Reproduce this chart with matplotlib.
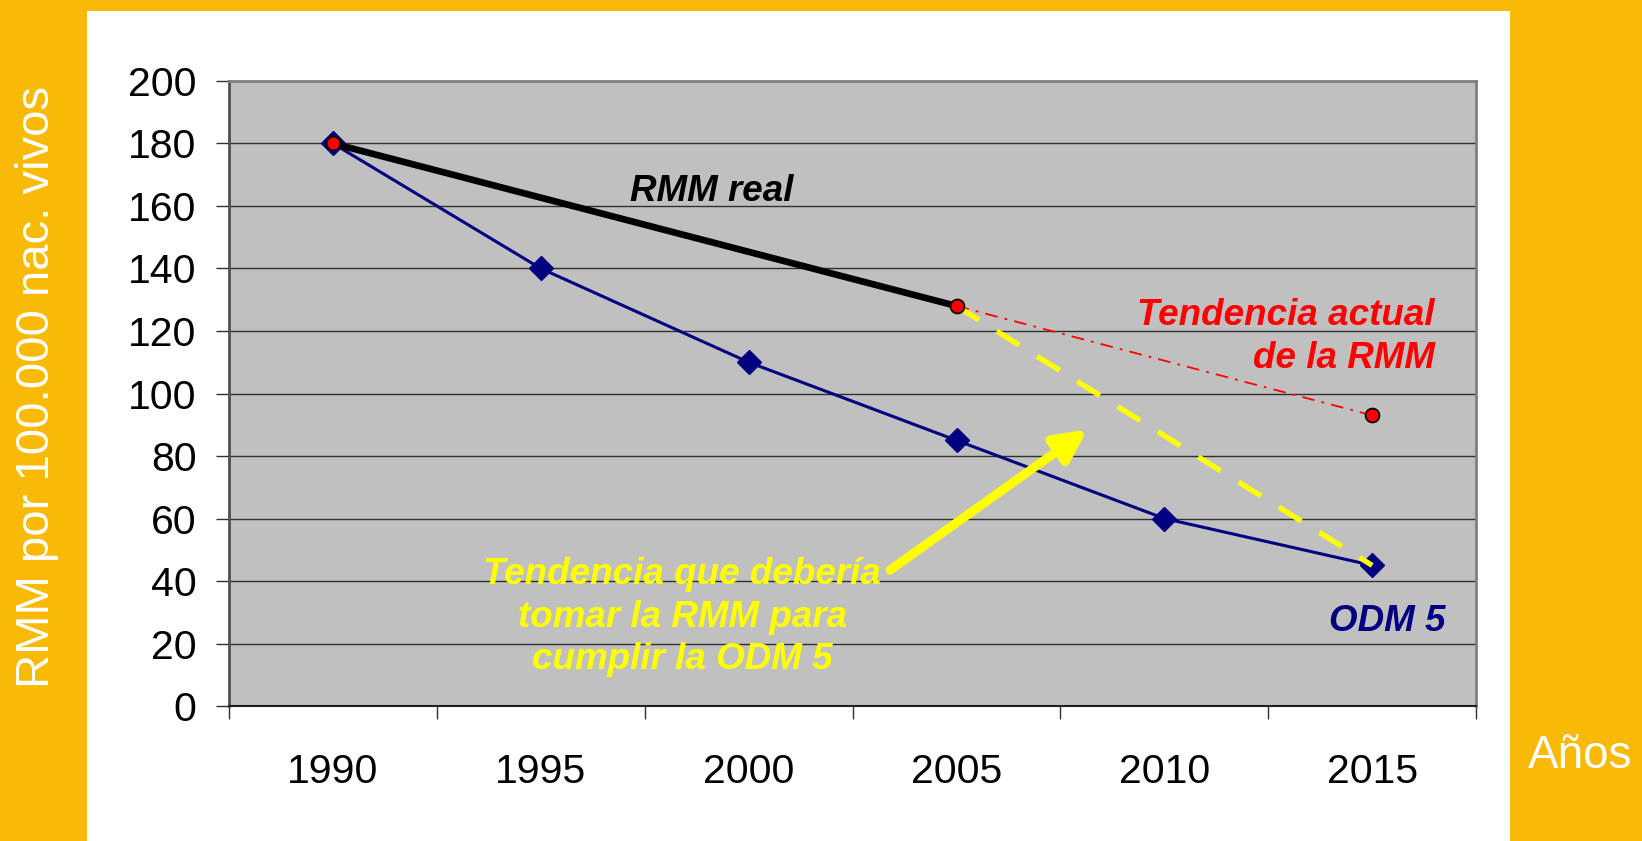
"""
plot.py
-------
RMM por 100.000 nacidos vivos: tendencia real vs. meta ODM 5.
Output: out.png
"""

import matplotlib.pyplot as plt
from matplotlib.patches import Rectangle

# ─────────────────────────────────────────────────────────────────────────────
YEARS      = ["1990", "1995", "2000", "2005", "2010", "2015"]
ODM5       = [180, 140, 110, 85, 60, 45]      # meta ODM 5
RMM_REAL   = [180, 128]                       # 1990, 2005
RMM_REAL_X = [0, 3]
TREND_X    = [3, 5]                           # 2005 -> 2015
TREND_ACT  = [128, 93]                        # tendencia actual
TREND_ODM  = [128, 45]                        # tendencia necesaria
RED_PTS_X  = [0, 3, 5]
RED_PTS_Y  = [180, 128, 93]
Y_TICKS    = list(range(0, 201, 20))

BG_YELLOW = "#F8BA07"
PLOT_GRAY = "#C0C0C0"
NAVY      = "#000080"
RED       = "#FF0000"
YELLOW    = "#FFFF00"

plt.rcParams["font.family"] = ["Liberation Sans", "DejaVu Sans"]

# ─────────────────────────────────────────────────────────────────────────────
fig = plt.figure(figsize=(16.42, 8.41), dpi=100)
fig.patch.set_facecolor(BG_YELLOW)
fig.patches.append(Rectangle((0.053, 0.0), 0.8666, 0.987, transform=fig.transFigure,
                             facecolor="white", edgecolor="none", zorder=-5))

ax = fig.add_axes([0.1395, 0.1605, 0.7595, 0.7432])
ax.set_zorder(2)
ax.set_facecolor(PLOT_GRAY)
ax.set_xlim(-0.5, 5.5)
ax.set_ylim(0, 200)

# grid
ax.set_yticks(Y_TICKS)
ax.yaxis.grid(True, color="#303030", lw=1.0)
ax.set_axisbelow(True)
ax.tick_params(axis="y", direction="out", length=9.5, width=1, color="#303030",
               labelsize=29.5, pad=14)

# categories: labels at centres, tick marks at boundaries
ax.set_xticks(range(len(YEARS)))
ax.set_xticklabels(YEARS)
ax.set_xticks([i - 0.5 for i in range(len(YEARS) + 1)], minor=True)
ax.tick_params(axis="x", which="major", length=0, labelsize=29.5, pad=34)
ax.tick_params(axis="x", which="minor", direction="out", length=9.5, width=1,
               color="#303030")

for side in ["top", "right"]:
    ax.spines[side].set_color("#808080")
    ax.spines[side].set_linewidth(2)
ax.spines["left"].set_color("#505050")
ax.spines["left"].set_linewidth(2)
ax.spines["bottom"].set_color("#202020")
ax.spines["bottom"].set_linewidth(1.5)

# ── series ───────────────────────────────────────────────────────────────────
x = range(len(YEARS))
ax.plot(x, ODM5, color=NAVY, lw=2.2, marker="D", ms=12,
        markerfacecolor=NAVY, markeredgecolor=NAVY, zorder=3)
ax.plot(RMM_REAL_X, RMM_REAL, color="black", lw=4.8, solid_capstyle="round", zorder=4)
ax.plot(TREND_X, TREND_ACT, color=RED, lw=1.3, dashes=(7, 4, 1.5, 4), zorder=3)
ax.plot(TREND_X, TREND_ODM, color=YELLOW, lw=3.8, dashes=(5, 4), zorder=4)
ax.plot(RED_PTS_X, RED_PTS_Y, ls="none", marker="o", ms=10,
        markerfacecolor=RED, markeredgecolor="black", markeredgewidth=1.3, zorder=5)

# ── annotations ──────────────────────────────────────────────────────────────
ax.text(1.82, 164.5, "RMM real", ha="center", va="center", fontsize=26.5,
        fontweight="bold", fontstyle="italic", color="black")
ax.text(5.30, 118, "Tendencia actual\nde la RMM", ha="right", va="center",
        fontsize=26.5, fontweight="bold", fontstyle="italic", color=RED,
        linespacing=1.3)
ax.text(5.07, 27, "ODM 5", ha="center", va="center", fontsize=26.5,
        fontweight="bold", fontstyle="italic", color=NAVY)
ax.text(1.68, 28.4, "Tendencia que debería\ntomar la RMM para\ncumplir la ODM 5",
        ha="center", va="center", fontsize=26.5, fontweight="bold",
        fontstyle="italic", color=YELLOW, linespacing=1.27, zorder=6)
ax.annotate("", xy=(3.63, 88.5), xytext=(2.68, 43.5),
            arrowprops=dict(arrowstyle="-|>", color=YELLOW, lw=6.5,
                            mutation_scale=48, shrinkA=0, shrinkB=0),
            zorder=6)

# ── axis titles on the yellow bands ──────────────────────────────────────────
fig.text(0.0225, 0.54, "RMM por 100.000 nac. vivos", rotation=90, ha="center",
         va="center", fontsize=34, color="white")
fig.text(0.962, 0.101, "Años", ha="center", va="center", fontsize=33, color="white")

fig.savefig("out.png", dpi=100, facecolor=fig.get_facecolor())
